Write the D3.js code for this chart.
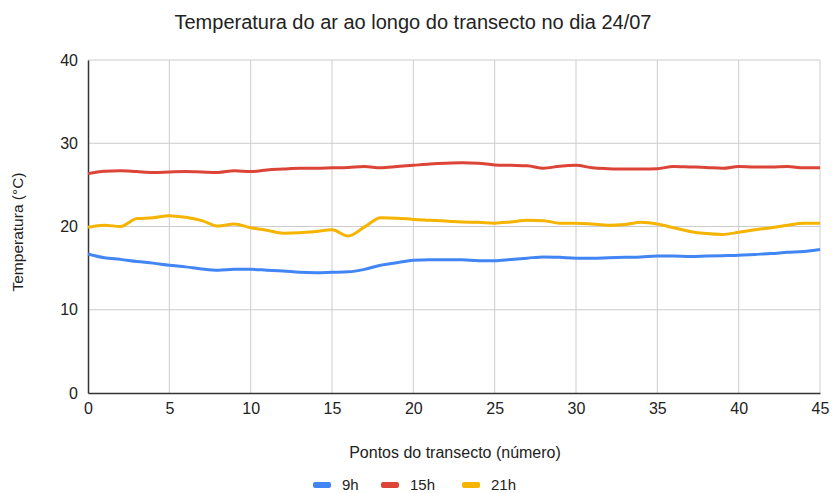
<!DOCTYPE html>
<html>
<head>
<meta charset="utf-8">
<script src="https://cdn.jsdelivr.net/npm/d3@7"></script>
<style>
  body { margin: 0; background: #fff; }
  text { font-family: "Liberation Sans", Arial, sans-serif; }
</style>
</head>
<body>
<script>
const pontos = d3.range(0, 46);

const t9h = [16.7, 16.25, 16.05, 15.8, 15.6, 15.35, 15.15, 14.9, 14.75, 14.85,
  14.85, 14.75, 14.65, 14.5, 14.45, 14.5, 14.55, 14.85, 15.35, 15.65,
  15.95, 16.0, 16.0, 16.0, 15.9, 15.9, 16.05, 16.2, 16.35, 16.3,
  16.2, 16.2, 16.25, 16.3, 16.35, 16.45, 16.45, 16.4, 16.45, 16.5,
  16.55, 16.65, 16.75, 16.9, 17.0, 17.25];

const t15h = [26.35, 26.65, 26.7, 26.6, 26.5, 26.55, 26.6, 26.55, 26.5, 26.7,
  26.6, 26.8, 26.9, 27.0, 27.0, 27.05, 27.1, 27.2, 27.05, 27.2,
  27.35, 27.5, 27.6, 27.65, 27.6, 27.4, 27.35, 27.3, 27.0, 27.25,
  27.35, 27.05, 26.95, 26.9, 26.9, 26.95, 27.2, 27.15, 27.1, 27.0,
  27.2, 27.15, 27.15, 27.2, 27.05, 27.05];

const t21h = [19.9, 20.15, 20.0, 20.95, 21.05, 21.3, 21.1, 20.7, 20.05, 20.3,
  19.85, 19.55, 19.2, 19.25, 19.4, 19.6, 18.85, 19.95, 21.05, 21.0,
  20.85, 20.75, 20.65, 20.55, 20.5, 20.4, 20.55, 20.75, 20.7, 20.4,
  20.4, 20.3, 20.15, 20.25, 20.5, 20.3, 19.85, 19.4, 19.15, 19.05,
  19.3, 19.6, 19.85, 20.15, 20.4, 20.4];

const series = [
  { name: "9h", values: t9h, color: "#4285F4" },
  { name: "15h", values: t15h, color: "#DB4437" },
  { name: "21h", values: t21h, color: "#F4B400" }
];

const xTicks = [0, 5, 10, 15, 20, 25, 30, 35, 40, 45];
const yTicks = [0, 10, 20, 30, 40];

const width = 832, height = 493;
const margin = { top: 60, right: 12, bottom: 100, left: 88 };

const svg = d3.select("body").append("svg")
  .attr("width", width)
  .attr("height", height);

const x = d3.scaleLinear().domain([0, 45]).range([margin.left, width - margin.right]);
const y = d3.scaleLinear().domain([0, 40]).range([height - margin.bottom, margin.top]);

// grid
svg.append("g")
  .selectAll("line.v")
  .data(xTicks.slice(1))
  .join("line")
  .attr("x1", d => x(d)).attr("x2", d => x(d))
  .attr("y1", y(0)).attr("y2", y(40))
  .attr("stroke", "#cccccc").attr("stroke-width", 1);

svg.append("g")
  .selectAll("line.h")
  .data(yTicks.slice(1))
  .join("line")
  .attr("x1", x(0)).attr("x2", x(45))
  .attr("y1", d => y(d)).attr("y2", d => y(d))
  .attr("stroke", "#cccccc").attr("stroke-width", 1);

// axes
const xAxis = svg.append("g")
  .attr("transform", `translate(0,${y(0)})`)
  .call(d3.axisBottom(x).tickValues(xTicks).tickSize(0).tickPadding(10));
xAxis.select(".domain").attr("stroke", "#333").attr("stroke-width", 1.5);
xAxis.selectAll("text").attr("font-size", 16).attr("fill", "#222")
  .attr("font-family", "'Liberation Sans', Arial, sans-serif");

const yAxis = svg.append("g")
  .attr("transform", `translate(${x(0)},0)`)
  .call(d3.axisLeft(y).tickValues(yTicks).tickSize(0).tickPadding(10));
yAxis.select(".domain").attr("stroke", "#333").attr("stroke-width", 1.5);
yAxis.selectAll("text").attr("font-size", 16).attr("fill", "#222")
  .attr("font-family", "'Liberation Sans', Arial, sans-serif");

// lines
const line = d3.line()
  .x((d, i) => x(pontos[i]))
  .y(d => y(d))
  .curve(d3.curveMonotoneX);

svg.append("g")
  .selectAll("path")
  .data(series)
  .join("path")
  .attr("d", d => line(d.values))
  .attr("fill", "none")
  .attr("stroke", d => d.color)
  .attr("stroke-width", 3)
  .attr("stroke-linejoin", "round");

// titles
svg.append("text")
  .attr("x", 413).attr("y", 29)
  .attr("text-anchor", "middle")
  .attr("font-size", 20).attr("fill", "#222")
  .text("Temperatura do ar ao longo do transecto no dia 24/07");

svg.append("text")
  .attr("x", 455).attr("y", 458)
  .attr("text-anchor", "middle")
  .attr("font-size", 16).attr("fill", "#222")
  .text("Pontos do transecto (número)");

svg.append("text")
  .attr("transform", "translate(23,232) rotate(-90)")
  .attr("text-anchor", "middle")
  .attr("font-size", 15.5).attr("fill", "#222")
  .text("Temperatura (°C)");

// legend
const legendX = [313, 381, 462];
const legend = svg.append("g")
  .selectAll("g")
  .data(series)
  .join("g")
  .attr("transform", (d, i) => `translate(${legendX[i]},485)`);
legend.append("rect")
  .attr("x", 0).attr("y", -3)
  .attr("width", 18).attr("height", 6)
  .attr("rx", 2)
  .attr("fill", d => d.color);
legend.append("text")
  .attr("x", 29).attr("y", 5)
  .attr("font-size", 15).attr("fill", "#222")
  .text(d => d.name);
</script>
</body>
</html>
